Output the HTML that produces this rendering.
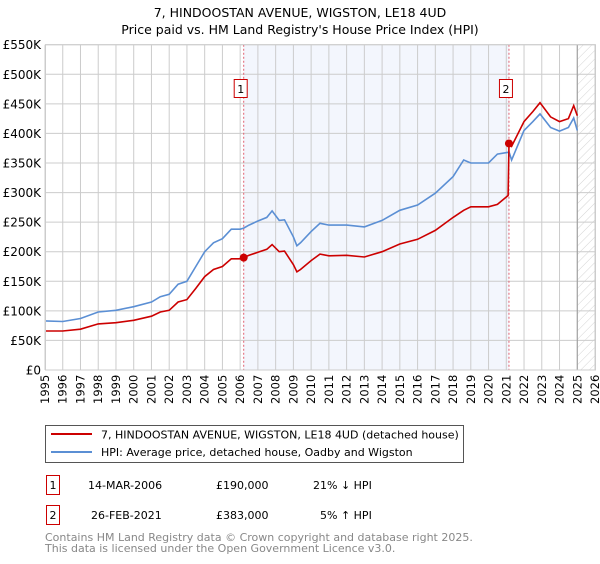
<!DOCTYPE html>
<html><head><meta charset="utf-8"><style>
body{margin:0;background:#fff;font-family:"DejaVu Sans","Liberation Sans",sans-serif;}
svg text{font-family:"DejaVu Sans","Liberation Sans",sans-serif;}
</style></head><body>
<svg id="chart" width="600" height="560" xmlns="http://www.w3.org/2000/svg">
<defs><pattern id="hatch" width="6" height="6" patternUnits="userSpaceOnUse" patternTransform="rotate(45)"><line x1="0" y1="0" x2="0" y2="6" stroke="#d4d4d4" stroke-width="1"/></pattern></defs>
<text x="300" y="17" text-anchor="middle" font-size="12.5" fill="#000">7, HINDOOSTAN AVENUE, WIGSTON, LE18 4UD</text>
<text x="300" y="34" text-anchor="middle" font-size="12.5" fill="#000">Price paid vs. HM Land Registry's House Price Index (HPI)</text>
<g id="plot"></g>
<g>
<rect x="45.5" y="425.5" width="418" height="37" fill="#fff" stroke="#555"/>
<line x1="51" y1="434" x2="92" y2="434" stroke="#cc0000" stroke-width="2"/>
<text x="101" y="438.5" font-size="11">7, HINDOOSTAN AVENUE, WIGSTON, LE18 4UD (detached house)</text>
<line x1="51" y1="452" x2="92" y2="452" stroke="#5b8fd4" stroke-width="2"/>
<text x="101" y="456" font-size="11">HPI: Average price, detached house, Oadby and Wigston</text>
</g>
<g font-size="11">
<rect x="46.5" y="475.5" width="13" height="19" fill="#fff" stroke="#cc0000"/>
<text x="53" y="489" text-anchor="middle">1</text>
<text x="88" y="489">14-MAR-2006</text>
<text x="216" y="489">£190,000</text>
<text x="313" y="489">21% ↓ HPI</text>
<rect x="46.5" y="505.5" width="13" height="19" fill="#fff" stroke="#cc0000"/>
<text x="53" y="519" text-anchor="middle">2</text>
<text x="91" y="519">26-FEB-2021</text>
<text x="216" y="519">£383,000</text>
<text x="320" y="519">5% ↑ HPI</text>
</g>
<text x="45" y="541" font-size="11" fill="#888">Contains HM Land Registry data © Crown copyright and database right 2025.</text>
<text x="45" y="552" font-size="11" fill="#888">This data is licensed under the Open Government Licence v3.0.</text>
</svg>
<script>
const years=[1995,1996,1997,1998,1999,2000,2001,2001.5,2002,2002.5,2003,2003.5,2004,2004.5,2005,2005.5,2006,2006.2,2006.5,2007,2007.5,2007.8,2008.2,2008.5,2009,2009.2,2009.4,2010,2010.5,2011,2012,2013,2014,2015,2016,2017,2018,2018.6,2019,2020,2020.5,2021.1,2021.15,2021.3,2022,2022.5,2022.9,2023.5,2024,2024.5,2024.8,2025];
const hpiValues=[83,82,87,98,101,107,115,124,128,145,150,175,200,215,222,238,238,240,245,252,258,269,253,254,225,210,215,234,248,245,245,242,253,270,279,299,327,355,350,350,365,368,369,355,405,420,433,410,404,410,426,405];
const priceValues=[66,66,69,78,80,84,91,98,101,115,119,138,158,170,175,188,188,190,194,199,204,212,200,201,178,166,170,185,196,193,194,191,200,213,221,236,258,270,276,276,280,295,383,378,420,437,452,428,420,425,447,430];
const yTicks=[0,50,100,150,200,250,300,350,400,450,500,550];
const yTickLabels=["£0","£50K","£100K","£150K","£200K","£250K","£300K","£350K","£400K","£450K","£500K","£550K"];
const xTicks=[1995,1996,1997,1998,1999,2000,2001,2002,2003,2004,2005,2006,2007,2008,2009,2010,2011,2012,2013,2014,2015,2016,2017,2018,2019,2020,2021,2022,2023,2024,2025,2026];
const saleYears=[2006.2,2021.15];
const saleValues=[190,383];
const saleLabels=["1","2"];
const dataEnd=2025.0;

const L=45,R=595,T=44.7,B=370,X0=1995,X1=2026,YMAX=550;
const x=v=>L+(v-X0)/(X1-X0)*(R-L);
const y=v=>B-v/YMAX*(B-T);
const NS="http://www.w3.org/2000/svg";
const g=document.getElementById('plot');
function mk(t,a){const e=document.createElementNS(NS,t);for(const k in a)e.setAttribute(k,a[k]);g.appendChild(e);return e;}
let e;
e=mk('rect',{x:L,y:T,width:R-L,height:B-T,fill:'#fff'});


e=mk('rect',{x:x(saleYears[0]),y:T,width:x(saleYears[1])-x(saleYears[0]),height:B-T,fill:'#eef2fc',opacity:0.7});


e=mk('rect',{x:x(dataEnd),y:T,width:R-x(dataEnd),height:B-T,fill:'url(#hatch)'});


xTicks.forEach(t=>{
 e=mk('line',{x1:x(t),x2:x(t),y1:T,y2:B,stroke:'#ccc','stroke-width':1});
 
 
 e=mk('text',{transform:`translate(${x(t)+4},${B+34}) rotate(-90)`,'font-size':11.5,fill:'#000'});
 e.textContent=t;
 
 
});
yTicks.forEach((t,i)=>{
 e=mk('line',{x1:L,x2:R,y1:y(t),y2:y(t),stroke:'#ccc','stroke-width':1});
 
 
 e=mk('text',{x:L-4,y:y(t)+4.5,'text-anchor':'end','font-size':12,fill:'#000'});
 e.textContent=yTickLabels[i];
 
 
});
e=mk('line',{x1:x(dataEnd),x2:x(dataEnd),y1:T,y2:B,stroke:'#999','stroke-width':1});


saleYears.forEach((s,i)=>{
 e=mk('line',{x1:x(s),x2:x(s),y1:T,y2:B,stroke:'#e06070','stroke-width':1,'stroke-dasharray':'2,2'});
 
 
 e=mk('rect',{x:x(s)-9.5,y:79.5,width:13,height:18,fill:'#fff',stroke:'#cc0000'});
 
 
 e=mk('text',{x:x(s)-3,y:93,'text-anchor':'middle','font-size':11});
 e.textContent=saleLabels[i];
 
 
});
const path=vals=>years.map((yr,i)=>(i?'L':'M')+x(yr).toFixed(1)+','+y(vals[i]).toFixed(1)).join('');
e=mk('path',{d:path(hpiValues),fill:'none',stroke:'#5b8fd4','stroke-width':1.6});


e=mk('path',{d:path(priceValues),fill:'none',stroke:'#cc0000','stroke-width':1.6});


saleYears.forEach((s,i)=>{
 e=mk('circle',{cx:x(s),cy:y(saleValues[i]),r:4,fill:'#cc0000'});
 
 
});
e=mk('rect',{x:L+0.5,y:T,width:R-L,height:B-T,fill:'none',stroke:'#ccc'});


</script>
</body></html>
